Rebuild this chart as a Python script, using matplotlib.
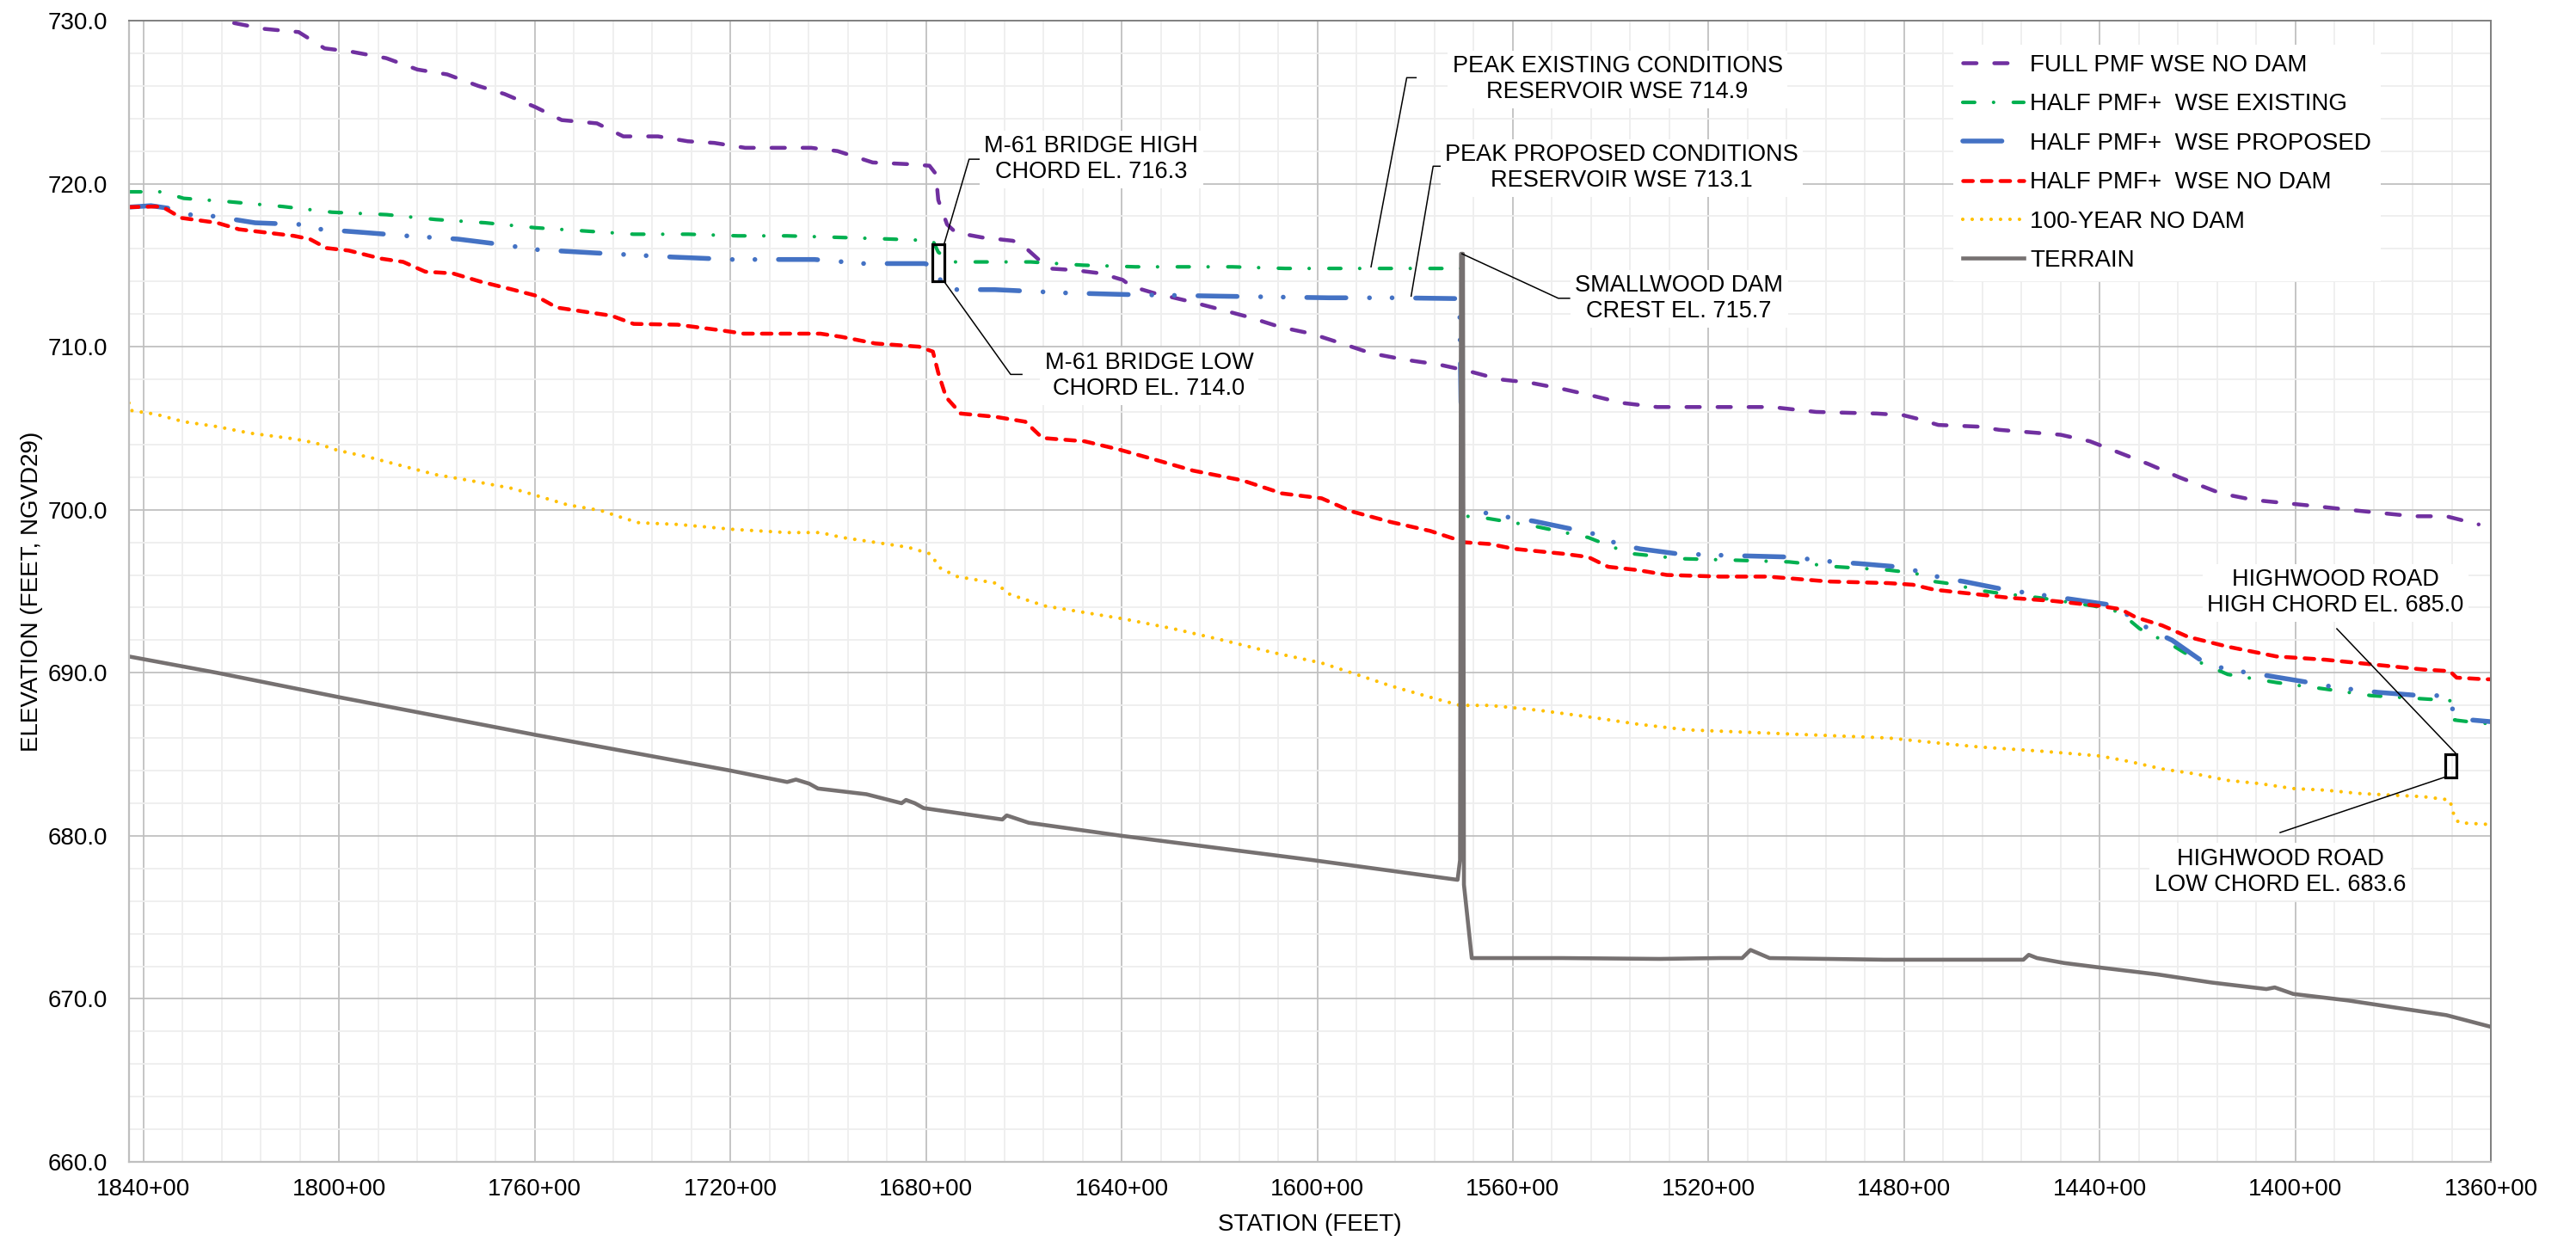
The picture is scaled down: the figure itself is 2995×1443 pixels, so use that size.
import matplotlib.pyplot as plt
import matplotlib.ticker as mticker
from matplotlib.patches import Rectangle

# Fonts / dash handling
plt.rcParams['font.family'] = ['Liberation Sans', 'DejaVu Sans']
plt.rcParams['lines.scale_dashes'] = False

## Data (station in 100 ft, 1840 -> 1840+00 ; elevation in ft NGVD29)
full_pmf_sta = [1843, 1832, 1824, 1815.5, 1808.3, 1803, 1797.6, 1790.4, 1784, 1777.9, 1771.6, 1766.2,
                1759.9, 1754.5, 1747.3, 1741.9, 1734.8, 1728.7, 1723.3, 1717, 1703.5, 1698.1, 1690.9,
                1683.8, 1679.3, 1678, 1677.5, 1675.7, 1673.9, 1668.5, 1662.3, 1660.5, 1656.8, 1655,
                1649.7, 1644.3, 1639.8, 1638, 1633.5, 1626.4, 1620, 1613.8, 1607.5, 1601.2, 1595, 1589,
                1582, 1575, 1569, 1562.8, 1556.6, 1549.7, 1543.8, 1537.6, 1530.5, 1525, 1507, 1498,
                1485.6, 1480.2, 1477.5, 1473, 1465, 1460.5, 1448, 1442, 1436, 1430, 1423.8, 1415.2,
                1408.5, 1401.8, 1395.2, 1389.1, 1382.5, 1375.8, 1369.1, 1362.5]
full_pmf_wse = [731.6, 730.6, 730.0, 729.5, 729.3, 728.3, 728.1, 727.7, 727.0, 726.7, 726.0, 725.5,
                724.7, 723.9, 723.7, 722.9, 722.9, 722.6, 722.5, 722.2, 722.2, 722.0, 721.3,
                721.2, 721.1, 720.6, 719.0, 717.5, 717.0, 716.7, 716.5, 716.3, 715.3, 714.8,
                714.7, 714.5, 714.1, 713.7, 713.3, 712.8, 712.3, 711.8, 711.2, 710.8, 710.2, 709.6,
                709.2, 708.9, 708.5, 708.0, 707.8, 707.4, 707.0, 706.55, 706.3, 706.3, 706.3, 706.0,
                705.9, 705.8, 705.6, 705.2, 705.1, 704.9, 704.6, 704.2, 703.5, 702.8, 702.0, 701.0,
                700.6, 700.4, 700.2, 700.0, 699.8, 699.6, 699.6, 699.1]

half_exist_sta = [1843, 1836.3, 1831.8, 1822.8, 1811.6, 1801.5, 1790.3, 1780.2, 1770.1, 1760, 1749.9,
                  1739.8, 1728.6, 1718.5, 1708.4, 1697.2, 1687, 1678.6, 1677.5, 1674.7, 1669.1, 1658.6,
                  1647.9, 1637.2, 1627.2, 1617.4, 1606.5, 1596.7, 1588, 1576, 1570.5, 1570.3, 1569.4,
                  1565.8, 1555.7, 1544.6, 1539.5, 1535.5, 1525.8, 1514, 1503.5, 1493.7, 1483.2, 1477.6,
                  1473.9, 1471.4, 1463.4, 1461, 1452.3, 1441.2, 1436.9, 1433.8, 1431.8, 1425.2, 1419.2,
                  1413.8, 1409.8, 1403.8, 1393.8, 1384.5, 1373.8, 1368.4, 1367.4, 1361.8, 1360]
half_exist_wse = [719.5, 719.5, 719.1, 718.9, 718.6, 718.25, 718.1, 717.8, 717.6, 717.3, 717.1,
                  716.9, 716.9, 716.8, 716.8, 716.7, 716.6, 716.5, 715.8, 715.2, 715.2, 715.2,
                  715.0, 714.9, 714.9, 714.9, 714.8, 714.8, 714.8, 714.8, 714.8, 699.7, 699.6,
                  699.5, 699.0, 698.3, 697.7, 697.3, 697.0, 696.9, 696.8, 696.5, 696.3, 696.1,
                  695.6, 695.5, 695.0, 694.9, 694.6, 694.1, 693.8, 693.2, 692.7, 691.7, 690.6,
                  689.9, 689.7, 689.4, 689.0, 688.6, 688.4, 688.3, 687.1, 686.9, 686.9]

half_prop_sta = [1843, 1838.5, 1835.1, 1830.6, 1825.6, 1817.2, 1808.2, 1803.7, 1794.7, 1786.3, 1775.7,
                 1769, 1759.4, 1747.6, 1731.9, 1719.6, 1702.8, 1692.7, 1680.3, 1678, 1676.5, 1673.6,
                 1665.9, 1651.5, 1638.9, 1620, 1597.6, 1584.3, 1570.9, 1570.3, 1569.4, 1564.8, 1560.3,
                 1555.7, 1547.7, 1543.1, 1538.6, 1534, 1526.4, 1516.5, 1503.5, 1494.3, 1489.3, 1481.3,
                 1476.7, 1472.1, 1467.8, 1459.4, 1454.8, 1450.2, 1445.5, 1437.5, 1433.5, 1429.5, 1425.2,
                 1418.5, 1413.8, 1405.2, 1397.1, 1391.7, 1383.1, 1374.4, 1369.8, 1367.4, 1363.8, 1360]
half_prop_wse = [718.56, 718.65, 718.5, 718.1, 718.0, 717.6, 717.5, 717.2, 717.0, 716.8, 716.6,
                 716.35, 715.95, 715.75, 715.5, 715.35, 715.35, 715.1, 715.1, 714.9, 713.6, 713.5,
                 713.5, 713.3, 713.2, 713.1, 713.0, 713.0, 712.95, 699.9, 699.8, 699.8, 699.5,
                 699.3, 698.8, 698.5, 697.9, 697.6, 697.3, 697.2, 697.1, 696.8, 696.7, 696.5,
                 696.2, 695.8, 695.6, 695.1, 694.9, 694.7, 694.5, 694.15, 693.4, 692.6, 692.0,
                 690.6, 690.2, 689.8, 689.4, 689.1, 688.8, 688.6, 688.6, 687.6, 687.1, 687.0]

half_nodam_sta = [1843, 1837.4, 1835.7, 1832.3, 1825, 1820.5, 1809.3, 1806, 1802.6, 1798.1, 1791.4,
                  1786.9, 1782.4, 1776.8, 1771.2, 1764.5, 1760, 1755.5, 1748.8, 1744.3, 1739.8, 1730.8,
                  1721.8, 1717.3, 1701.6, 1697.2, 1690.4, 1681.4, 1678.6, 1677.5, 1675.9, 1672.9, 1665.8,
                  1659.7, 1656.2, 1647.6, 1640.6, 1633.5, 1625.4, 1615.3, 1607.2, 1599.1, 1593, 1585,
                  1576.9, 1571.8, 1569.8, 1564.8, 1559.7, 1549.7, 1544.6, 1540.5, 1534.5, 1528.5, 1517.6,
                  1507.9, 1495.5, 1483.2, 1478.2, 1473.9, 1467.8, 1458.5, 1449.3, 1440, 1435.7, 1432.6,
                  1427.2, 1421.9, 1413.8, 1403.8, 1393.8, 1383.8, 1373.8, 1368.4, 1367, 1361.1, 1360]
half_nodam_wse = [718.56, 718.6, 718.5, 717.9, 717.6, 717.2, 716.8, 716.6, 716.05, 715.9, 715.4,
                  715.2, 714.6, 714.5, 714.0, 713.5, 713.15, 712.4, 712.1, 711.9, 711.4, 711.35,
                  711.0, 710.8, 710.8, 710.6, 710.2, 710.0, 709.7, 708.4, 706.9, 705.9, 705.7,
                  705.4, 704.4, 704.2, 703.7, 703.1, 702.4, 701.8, 701.0, 700.7, 699.9, 699.25,
                  698.7, 698.2, 698.0, 697.9, 697.6, 697.3, 697.1, 696.5, 696.3, 696.0, 695.9,
                  695.9, 695.6, 695.5, 695.4, 695.1, 694.9, 694.6, 694.4, 694.1, 693.9, 693.4,
                  692.9, 692.2, 691.6, 691.0, 690.8, 690.5, 690.2, 690.1, 689.7, 689.6, 689.6]

yr100_sta = [1843, 1842.8, 1837.4, 1831.8, 1825, 1818.3, 1809.3, 1804.9, 1800.4, 1793.6, 1784.7,
             1780.2, 1773.4, 1764.5, 1760, 1753.3, 1746.5, 1742, 1738.7, 1730.8, 1719.6, 1708.4,
             1701.6, 1697.2, 1690.4, 1683.7, 1679.2, 1677, 1673.6, 1665.8, 1662.8, 1655.7, 1645.6,
             1639.5, 1629.4, 1619.3, 1609.2, 1599.1, 1593, 1585, 1576.9, 1570.8, 1564.8, 1554.7,
             1544.6, 1534.5, 1524.4, 1520.2, 1507.9, 1495.5, 1483.2, 1473.3, 1464.7, 1452.3, 1440,
             1433.8, 1427.2, 1420.5, 1413.8, 1407.2, 1400.5, 1393.8, 1387.1, 1380.5, 1373.8, 1368.4,
             1367.4, 1366.5, 1360.4]
yr100_wse = [706.55, 706.1, 705.85, 705.4, 705.1, 704.7, 704.35, 704.1, 703.65, 703.2, 702.5,
             702.15, 701.8, 701.3, 700.9, 700.3, 699.95, 699.5, 699.2, 699.1, 698.8, 698.6,
             698.6, 698.3, 698.0, 697.7, 697.3, 696.4, 695.9, 695.5, 694.8, 694.1, 693.6,
             693.3, 692.7, 692.0, 691.25, 690.6, 690.0, 689.2, 688.5, 688.0, 688.0, 687.7,
             687.3, 686.85, 686.5, 686.45, 686.3, 686.15, 686.0, 685.7, 685.45, 685.2, 684.9,
             684.55, 684.1, 683.8, 683.4, 683.2, 682.9, 682.8, 682.6, 682.5, 682.4, 682.2,
             681.1, 680.8, 680.7]

terrain_sta = [1843, 1832.2, 1825, 1800, 1760, 1720, 1708.4, 1706.6, 1703.9, 1702.1, 1692.2, 1685,
               1684.1, 1682.3, 1680.5, 1664.4, 1663.5, 1659, 1640, 1600.7, 1571.3, 1570.8, 1570.6,
               1570.2, 1570.0, 1568.4, 1550, 1530, 1517.6, 1513.1, 1511.4, 1507.5, 1484.1, 1455.6,
               1454.5, 1452.8, 1447.3, 1439.4, 1428.2, 1417.1, 1405.9, 1404.2, 1400.4, 1389.2, 1378.1,
               1369.1, 1360.2]
terrain_elev = [691.0, 690.4, 690.0, 688.5, 686.2, 684.0, 683.3, 683.45, 683.2, 682.9, 682.55, 682.0,
                682.2, 682.0, 681.7, 681.0, 681.25, 680.8, 680.0, 678.5, 677.3, 678.5, 715.7,
                715.7, 677.0, 672.5, 672.5, 672.45, 672.5, 672.5, 673.0, 672.5, 672.4, 672.4,
                672.7, 672.5, 672.2, 671.9, 671.5, 671.0, 670.6, 670.7, 670.3, 669.9, 669.4,
                669.0, 668.3]

# structures
m61_sta = 1677.5
m61_low, m61_high = 714.0, 716.3
hw_sta = 1368.2
hw_low, hw_high = 683.6, 685.0
dam_sta, dam_crest = 1570.4, 715.7
peak_exist, peak_prop = 714.9, 713.1

## Figure
fig = plt.figure(figsize=(29.95, 14.43), dpi=100)
ax = fig.add_axes([0.05025, 0.06376, 0.9167, 0.91961])

ax.plot(full_pmf_sta, full_pmf_wse, color='#7030A0', lw=3.25, dashes=[11.2, 14.8],
        dash_capstyle='round', label='FULL PMF WSE NO DAM')
ax.plot(half_exist_sta, half_exist_wse, color='#00B050', lw=3.0, dashes=[10, 15.8, 0.01, 16.5],
        dash_capstyle='round', label='HALF PMF+  WSE EXISTING')
ax.plot(half_prop_sta, half_prop_wse, color='#4472C4', lw=4.0,
        dashes=[32.8, 19.7, 0.01, 18.9, 0.01, 19.7], dash_capstyle='round',
        label='HALF PMF+  WSE PROPOSED')
ax.plot(half_nodam_sta, half_nodam_wse, color='#FF0000', lw=3.25, dashes=[8.1, 7.5],
        dash_capstyle='round', label='HALF PMF+  WSE NO DAM')
ax.plot(yr100_sta, yr100_wse, color='#FFC000', lw=3.0, dashes=[0.01, 7.9],
        dash_capstyle='round', label='100-YEAR NO DAM')
ax.plot(terrain_sta, terrain_elev, color='#767171', lw=3.3, label='TERRAIN')

# bridge chord boxes
ax.add_patch(Rectangle((m61_sta - 1.2, m61_low), 2.4, m61_high - m61_low,
                       fill=False, ec='black', lw=2.3, zorder=5))
ax.add_patch(Rectangle((hw_sta - 1.2, hw_low), 2.4, hw_high - hw_low,
                       fill=False, ec='black', lw=2.3, zorder=5))

# Axes
ax.set_xlim(1842.9, 1360)
ax.set_ylim(660, 730)
ax.xaxis.set_major_locator(mticker.MultipleLocator(40))
ax.xaxis.set_minor_locator(mticker.MultipleLocator(8))
ax.yaxis.set_major_locator(mticker.MultipleLocator(10))
ax.yaxis.set_minor_locator(mticker.MultipleLocator(2))
ax.xaxis.set_major_formatter(mticker.FuncFormatter(lambda v, p: f'{v:.0f}+00'))
ax.yaxis.set_major_formatter(mticker.FormatStrFormatter('%.1f'))
ax.tick_params(which='both', length=0)
ax.tick_params(axis='x', labelsize=20, pad=13.5)
ax.tick_params(axis='y', labelsize=20, pad=18)
ax.set_axisbelow(True)
ax.grid(which='major', color='#C0C0C0', lw=1.3)
ax.grid(which='minor', color='#EEEEEE', lw=1.3)
for s in ['top', 'right']:
    ax.spines[s].set_color('#808080')
    ax.spines[s].set_linewidth(1.4)
for s in ['left', 'bottom']:
    ax.spines[s].set_color('#BFBFBF')
    ax.spines[s].set_linewidth(1.6)

ax.set_xlabel('STATION (FEET)', fontsize=20)
ax.set_ylabel('ELEVATION (FEET, NGVD29)', fontsize=20)
ax.xaxis.set_label_coords(0.5, -0.045)
ax.yaxis.set_label_coords(-0.0365, 0.5)

leg = ax.legend(loc='upper left', bbox_to_anchor=(0.7724, 0.979), borderaxespad=0,
                fontsize=20, handlelength=2.55, handletextpad=0.25, labelspacing=0.7,
                borderpad=0.4, fancybox=False, framealpha=1, facecolor='white', edgecolor='none')
leg.set_zorder(6)

# Annotations
box = dict(boxstyle='square,pad=0.2', fc='white', ec='none')
txt = dict(fontsize=19.5, ha='center', va='center', bbox=box, zorder=7)
lead = dict(color='black', lw=1.1, zorder=6)

ax.plot([m61_sta - 1.2, 1671.2, 1669.0], [m61_high, 721.5, 721.5], **lead)
ax.text(1646.2, 721.5, f'M-61 BRIDGE HIGH\nCHORD EL. {m61_high:.1f}', **txt)

ax.plot([m61_sta - 1.2, 1662.7, 1660.4], [m61_low, 708.3, 708.3], **lead)
ax.text(1634.4, 708.2, f'M-61 BRIDGE LOW\nCHORD EL. {m61_low:.1f}', **txt)

ax.plot([1589.0, 1581.7, 1579.8], [peak_exist, 726.5, 726.5], **lead)
ax.text(1538.6, 726.4, f'PEAK EXISTING CONDITIONS\nRESERVOIR WSE {peak_exist:.1f}', **txt)

ax.plot([1580.8, 1576.3, 1574.5], [peak_prop, 721.07, 721.07], **lead)
ax.text(1537.7, 720.96, f'PEAK PROPOSED CONDITIONS\nRESERVOIR WSE {peak_prop:.1f}', **txt)

ax.plot([dam_sta, 1550.7, 1548.4], [dam_crest, 712.97, 712.97], **lead)
ax.text(1526.0, 712.95, f'SMALLWOOD DAM\nCREST EL. {dam_crest:.1f}', **txt)

ax.plot([hw_sta - 1.2, 1391.5], [hw_high, 692.7], **lead)
ax.text(1391.8, 694.9, f'HIGHWOOD ROAD\nHIGH CHORD EL. {hw_high:.1f}', **txt)

ax.plot([hw_sta + 1.2, 1403.1], [hw_low, 680.2], **lead)
ax.text(1403.1, 677.8, f'HIGHWOOD ROAD\nLOW CHORD EL. {hw_low:.1f}', **txt)

plt.savefig('out.png', dpi=100)
